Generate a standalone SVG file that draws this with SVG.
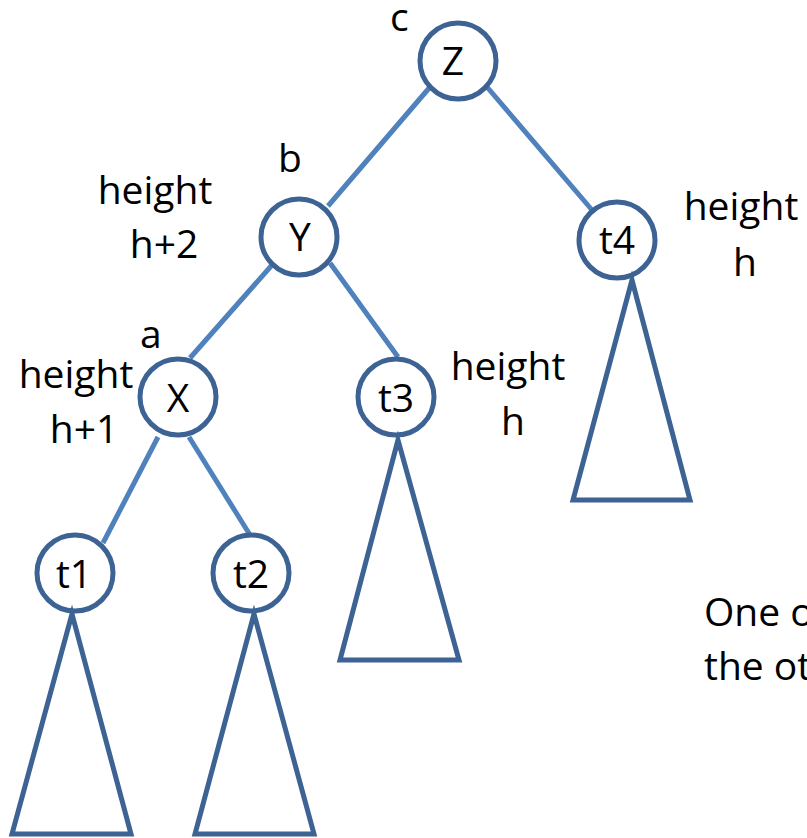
<svg xmlns="http://www.w3.org/2000/svg" width="807" height="838" viewBox="0 0 807 838">
<style>
.node{fill:#fff;stroke:#3d6394;stroke-width:5}
.tri{fill:#fff;stroke:#3d6394;stroke-width:5;stroke-linejoin:miter}
.edge{stroke:#4f81bd;stroke-width:5;fill:none}
text{font-family:"Open Sans","Liberation Sans",sans-serif;font-size:39px;fill:#000}
.c{text-anchor:middle}
</style>
<rect width="807" height="838" fill="#fff"/>
<g id="connectors">
<line class="edge" x1="430" y1="87" x2="328" y2="206"/>
<line class="edge" x1="487" y1="87" x2="592" y2="210"/>
<line class="edge" x1="272" y1="265" x2="190" y2="358"/>
<line class="edge" x1="330" y1="263" x2="398" y2="357"/>
<line class="edge" x1="158" y1="437" x2="103" y2="543"/>
<line class="edge" x1="189" y1="437" x2="250" y2="535"/>
</g>
<g id="node-Z"><circle class="node" cx="458" cy="61" r="38"/><text class="c" x="453" y="75">Z</text><text x="390" y="31">c</text></g>
<g id="node-Y"><circle class="node" cx="299" cy="237" r="38"/><text class="c" x="300" y="251">Y</text><text x="278" y="172">b</text>
<text class="c" x="155" y="204">height</text><text class="c" x="164" y="258">h+2</text></g>
<g id="node-t4"><circle class="node" cx="617" cy="240" r="38"/><text class="c" x="617" y="254">t4</text>
<text class="c" x="741" y="220">height</text><text class="c" x="745" y="276">h</text>
<polygon class="tri" points="632,280 573,500 690,500"/></g>
<g id="node-X"><circle class="node" cx="178" cy="397" r="38"/><text class="c" x="178" y="412">X</text><text x="140" y="348">a</text>
<text class="c" x="76" y="388">height</text><text class="c" x="84" y="443">h+1</text></g>
<g id="node-t3"><circle class="node" cx="396" cy="397" r="38"/><text class="c" x="396" y="412">t3</text>
<text class="c" x="508" y="380">height</text><text class="c" x="513" y="435">h</text>
<polygon class="tri" points="398,440 340,660 459,660"/></g>
<g id="node-t1"><circle class="node" cx="75" cy="573" r="38"/><text class="c" x="74" y="588">t1</text>
<polygon class="tri" points="72,614 12,834 131,834"/></g>
<g id="node-t2"><circle class="node" cx="251" cy="573" r="38"/><text class="c" x="251" y="588">t2</text>
<polygon class="tri" points="254,614 195,834 314,834"/></g>
<g id="note"><text x="704" y="626">One o</text><text x="704" y="680">the ot</text></g>
</svg>
